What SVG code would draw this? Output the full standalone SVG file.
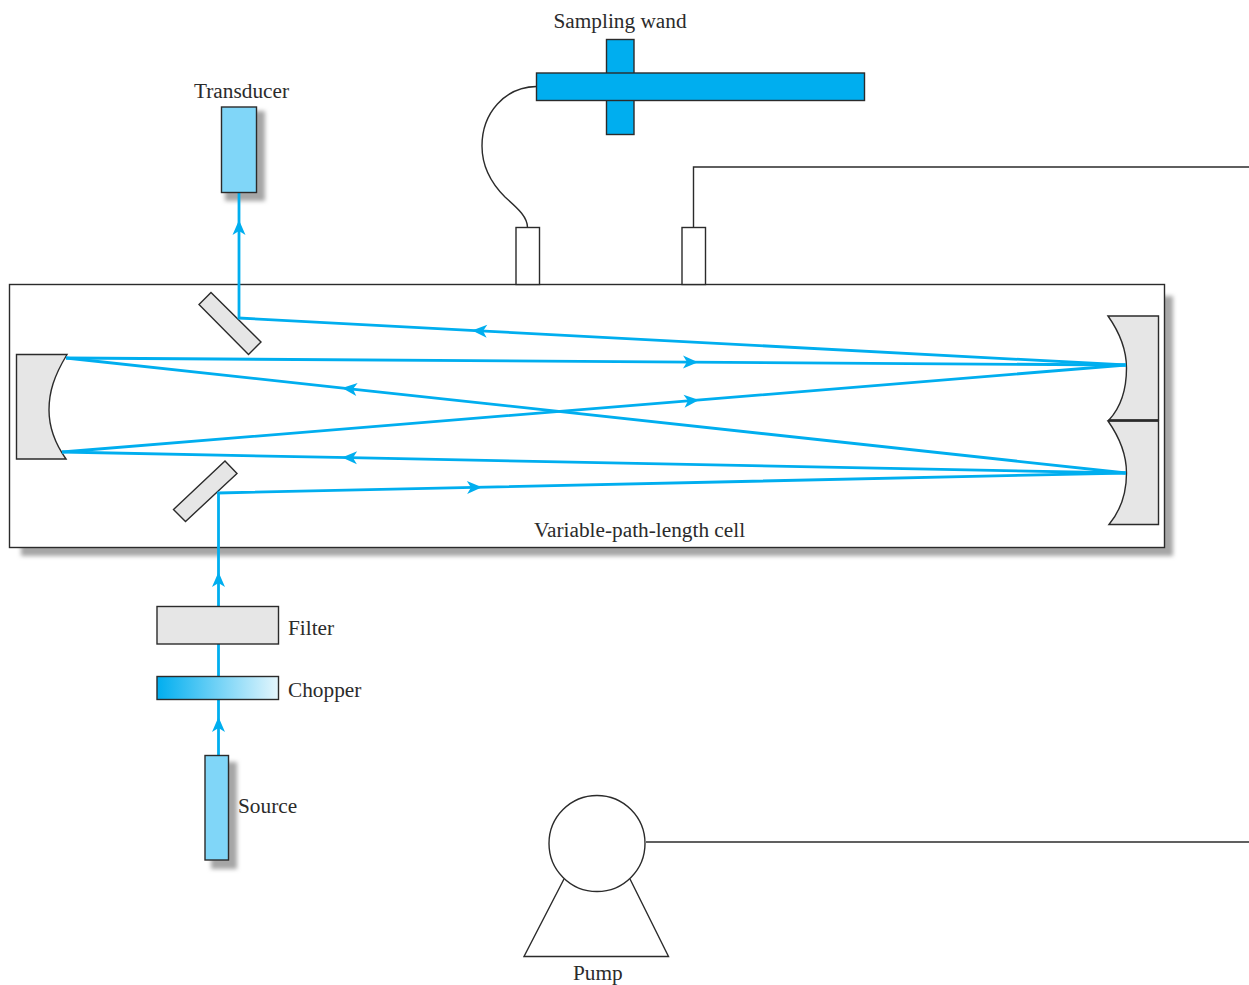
<svg xmlns="http://www.w3.org/2000/svg" width="1249" height="985" viewBox="0 0 1249 985">
<style>
.o{stroke:#2b2b2b;stroke-width:1.4}
.g{fill:#e6e6e6}
.b{fill:#80d6f8}
.w{fill:#00aeef}
.n{fill:none}
.h{fill:#fff}
.s{fill:#a6a6a6;filter:url(#blur)}
.beam{fill:none;stroke:#00aeef;stroke-width:2.8;stroke-linejoin:miter;marker-mid:url(#ah)}
text{font-family:"Liberation Serif","Times New Roman",serif;font-size:21.3px;fill:#2b2b2b}
</style>
<defs>
<filter id="blur" x="-20%" y="-20%" width="140%" height="140%"><feGaussianBlur stdDeviation="2"/></filter>
<linearGradient id="chop" x1="0" x2="1" y1="0" y2="0"><stop offset="0" stop-color="#00aeef"/><stop offset="1" stop-color="#e4f6fd"/></linearGradient>
<marker id="ah" markerUnits="userSpaceOnUse" markerWidth="20" markerHeight="16" refX="8" refY="8" orient="auto" viewBox="0 0 20 16"><path d="M16,8 L1,1.5 L5,8 L1,14.5 Z" fill="#00aeef"/></marker>
</defs>

<g id="shadows">
<rect class="s" x="21" y="296" width="1152" height="260"/>
<rect class="s" x="225" y="111" width="40" height="90"/>
<rect class="s" x="211" y="762" width="26" height="107"/>
</g>

<g id="cell"><rect class="o h" x="9.5" y="284.5" width="1155" height="263"/></g>

<g id="mirror-left"><path class="o g" d="M16.5,354.5 H67 C54,376 49,392 49,410 C49,426 54,442 66,459 H16.5 Z"/></g>
<g id="mirror-right-top"><path class="o g" d="M1108,316 H1158.5 V420 H1109 C1121,407 1126.5,388 1126.5,368 C1126.5,350 1120,333 1108,316 Z"/></g>
<g id="mirror-right-bottom"><path class="o g" d="M1108,421 H1158.5 V524.5 H1109 C1121,510 1126.5,492 1126.5,473 C1126.5,455 1120,438 1108,421 Z"/></g>
<path class="o n" d="M1108,420.5 H1158.5" style="stroke-width:2"/>
<g id="fold-mirror-top"><polygon class="o g" points="211,292.5 261,342 248.5,354.5 199,304.5"/></g>
<g id="fold-mirror-bottom"><polygon class="o g" points="225,461 237,473.5 185.5,521.5 173.5,509.5"/></g>

<g id="connectors">
<path class="beam" d="M218.5,755 L218.5,725 L218.5,580 L218.5,492"/>
<path class="beam" d="M217.5,493 L474,487.37 L1126,473"/>
<path class="beam" d="M1126,473 L350,388.8 L66,358"/>
<path class="beam" d="M66,358 L690,362.1 L1126,365"/>
<path class="beam" d="M1126,365 L480,330.8 L238,318"/>
<path class="beam" d="M239,319 L239,228 L239,193"/>
<path class="beam" d="M1126,473 L350,457.7 L62,452"/>
<path class="beam" d="M62,452 L691,400.6 L1126,365"/>
<path class="o n" d="M536.5,86.5 C505,87 482,113 482,146 C482,170 494,186 505,197 C516,207 527.5,216 527.5,227.5"/>
<path class="o n" d="M693.5,227.5 V167 H1249"/>
<path class="o n" d="M646,842 H1249"/>
</g>

<g id="transducer"><rect class="o b" x="221.5" y="107" width="35" height="85.5"/><text x="194" y="98">Transducer</text></g>
<g id="filter"><rect class="o g" x="157" y="606.5" width="121.5" height="37.5"/><text x="288" y="635">Filter</text></g>
<g id="chopper"><rect class="o" fill="url(#chop)" x="157" y="676.5" width="121.5" height="23"/><text x="288" y="697">Chopper</text></g>
<g id="source"><rect class="o b" x="205" y="755.5" width="23.5" height="104.5"/><text x="238" y="813">Source</text></g>
<g id="wand">
<rect class="o w" x="606.5" y="39.5" width="27.5" height="95"/>
<rect class="o w" x="536.5" y="73" width="328" height="27.5"/>
<text x="553.5" y="28">Sampling wand</text>
</g>
<g id="port-left"><rect class="o h" x="516" y="227.5" width="23.5" height="57"/></g>
<g id="port-right"><rect class="o h" x="682" y="227.5" width="23.5" height="57"/></g>
<g id="pump">
<circle class="o h" cx="597" cy="843.5" r="48"/>
<path class="o n" d="M564,879 L524,956.5 H668.5 L630,879"/>
<text x="573" y="980">Pump</text>
</g>
<text x="534" y="537">Variable-path-length cell</text>
</svg>
